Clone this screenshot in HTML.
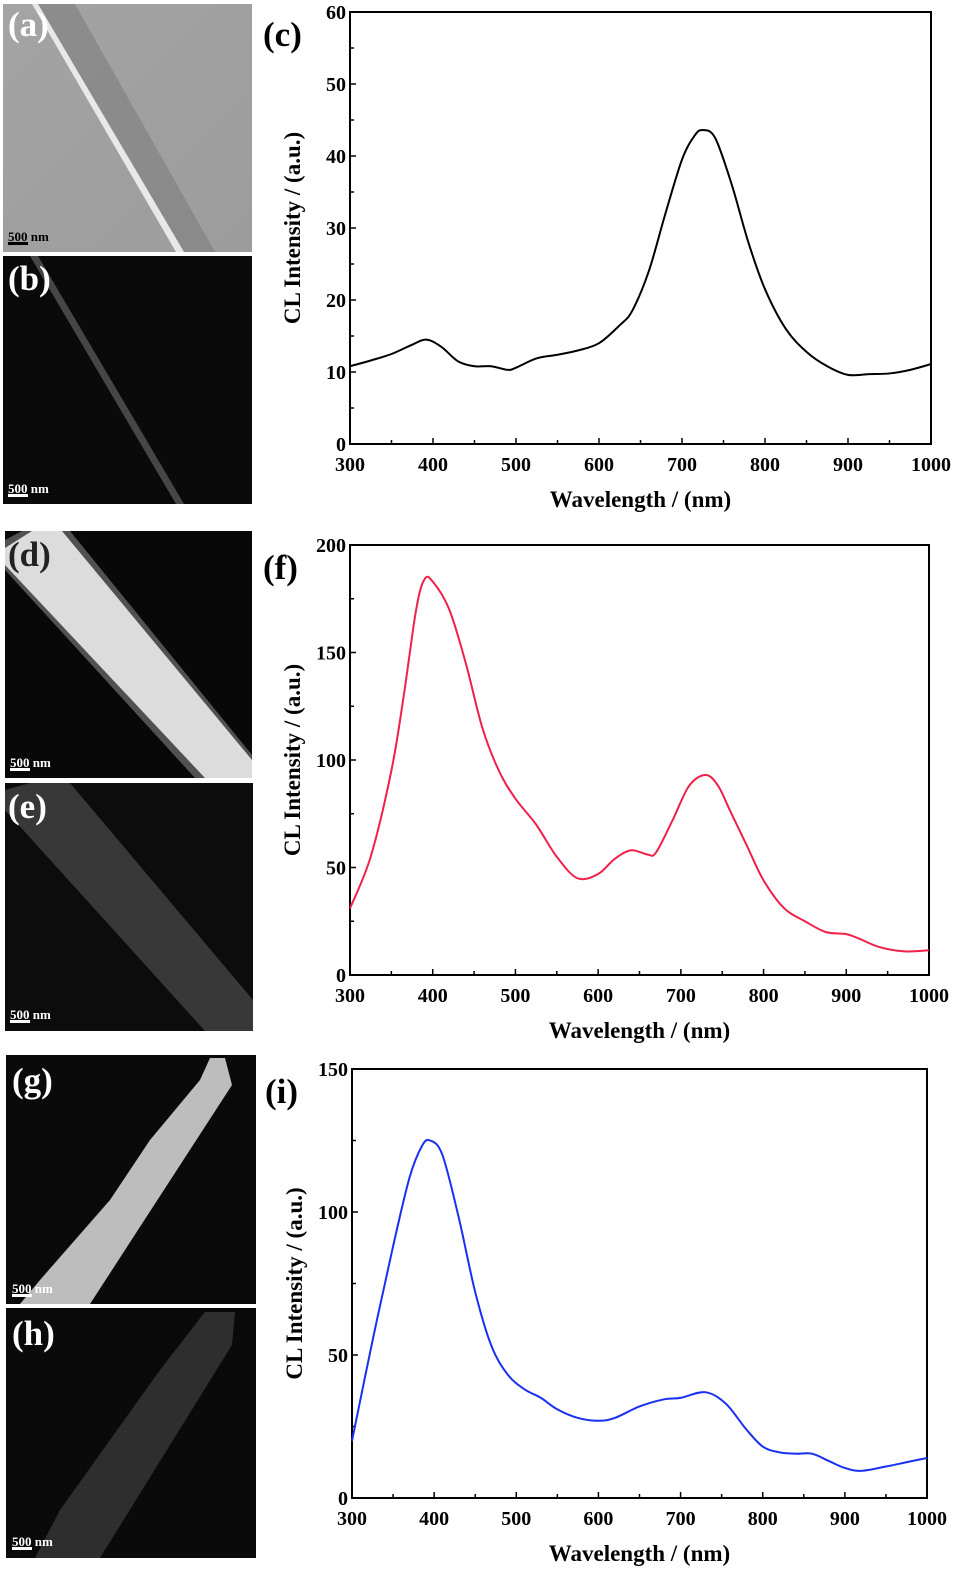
<!DOCTYPE html>
<html><head><meta charset="utf-8"><style>
html,body{margin:0;padding:0;background:#fff;}
svg{display:block;font-family:"Liberation Serif",serif;}
.t{font-weight:bold;font-size:20px;}
.at{font-weight:bold;font-size:23px;}
.pl{font-weight:bold;font-size:35px;}
.sb{font-size:13px;font-weight:bold;fill:#fff;}
</style></head><body>
<svg id="fig" width="964" height="1579" viewBox="0 0 964 1579" xmlns="http://www.w3.org/2000/svg">
<defs>
<linearGradient id="gA" x1="0" y1="0" x2="1" y2="1"><stop offset="0" stop-color="#a4a4a4"/><stop offset="1" stop-color="#9c9c9c"/></linearGradient>
</defs>
<g>
<rect x="3" y="4" width="249" height="248" fill="url(#gA)"/>
<polygon points="36,4 75,4 215,252 178,252" fill="#7a7a7a" opacity="0.55"/>
<polygon points="32,4 38,4 184,252 176,252" fill="#e8e8e8"/>
<rect x="8" y="242" width="20" height="3" fill="#000"/>
<text x="8" y="241" font-size="13" font-weight="bold" fill="#000">500 nm</text>
<text class="pl" x="8" y="36" fill="#fff">(a)</text>
</g>
<g>
<rect x="3" y="256" width="249" height="248" fill="#0a0a0a"/>
<polygon points="30,256 38,256 184,504 176,504" fill="#555" opacity="0.8"/>
<rect x="8" y="494" width="20" height="3" fill="#fff"/>
<text class="sb" x="8" y="493">500 nm</text>
<text class="pl" x="8" y="290" fill="#fff">(b)</text>
</g>
<g>
<rect x="5" y="531" width="247" height="247" fill="#080808"/>
<polygon points="22,531 70,531 252,755 252,778 195,778 5,570 5,540" fill="#999" opacity="0.5"/>
<polygon points="32,531 62,531 252,760 252,778 205,778 5,565 5,548" fill="#dcdcdc"/>
<rect x="10" y="768" width="20" height="3" fill="#fff"/>
<text class="sb" x="10" y="767">500 nm</text>
<text class="pl" x="8" y="566" fill="#222">(d)</text>
</g>
<g>
<rect x="5" y="783" width="248" height="248" fill="#0c0c0c"/>
<polygon points="30,783 70,783 253,1000 253,1031 205,1031 5,810 5,790" fill="#383838"/>
<rect x="10" y="1020" width="20" height="3" fill="#fff"/>
<text class="sb" x="10" y="1019">500 nm</text>
<text class="pl" x="8" y="818" fill="#fff">(e)</text>
</g>
<g>
<rect x="6" y="1055" width="250" height="249" fill="#0a0a0a"/>
<polygon points="210,1058 225,1058 232,1085 90,1304 20,1304 40,1280 75,1240 110,1200 150,1140 200,1080" fill="#bdbdbd"/>
<rect x="12" y="1294" width="20" height="3" fill="#fff"/>
<text class="sb" x="12" y="1293">500 nm</text>
<text class="pl" x="12" y="1092" fill="#fff">(g)</text>
</g>
<g>
<rect x="6" y="1308" width="250" height="250" fill="#0a0a0a"/>
<polygon points="205,1312 235,1312 232,1345 100,1558 35,1558 60,1510 110,1440 160,1370" fill="#2e2e2e"/>
<rect x="12" y="1547" width="20" height="3" fill="#fff"/>
<text class="sb" x="12" y="1546">500 nm</text>
<text class="pl" x="12" y="1345" fill="#fff">(h)</text>
</g>
<g id="charts"></g>
</svg>
<script>
const xTicks = [300,400,500,600,700,800,900,1000];
const cX = [300,325,350,375,392,410,430,450,470,490,500,525,550,575,600,625,640,660,680,700,715,725,740,760,780,800,825,850,875,900,925,950,975,1000];
const cY = [10.8,11.6,12.5,13.8,14.5,13.5,11.5,10.8,10.8,10.3,10.6,11.9,12.4,13.0,14.0,16.5,18.5,24,32,39.5,42.8,43.6,42.5,36,28,21.5,16,12.8,10.8,9.6,9.7,9.8,10.3,11.1];
const cTicks = [0,10,20,30,40,50,60];
const fX = [300,325,350,365,380,390,400,420,440,460,480,500,525,550,575,600,620,640,660,670,690,710,730,745,760,780,800,825,850,875,900,915,940,970,1000];
const fY = [31,55,95,130,170,184,183,170,145,115,95,82,70,55,45,47,54,58,56,57,72,88,93,88,76,60,44,31,25,20,19,17,13,11,11.5];
const fTicks = [0,50,100,150,200];
const iX = [300,325,350,370,385,395,410,430,450,470,490,510,530,550,575,600,620,650,680,700,730,755,780,800,820,840,860,880,900,920,950,975,1000];
const iY = [20,55,88,112,123,125,120,98,72,53,43,38,35,31,28,27,28,32,34.5,35,37,33,24,18,16,15.5,15.5,13,10.5,9.5,11,12.5,14];
const iTicks = [0,50,100,150];

const NS = 'http://www.w3.org/2000/svg';
const root = document.getElementById('charts');
function mk(tag, attrs, parent, txt){
  const e = document.createElementNS(NS, tag);
  for (const k in attrs) e.setAttribute(k, attrs[k]);
  if (txt !== undefined) e.textContent = txt;
  parent.appendChild(e); return e;
}
function chart(id, L, R, T, B, ymax, yTicks, xs, ys, color, label){
  const g = mk('g', {}, root);
  
  
  const sx = v => L + (v-300)/700*(R-L);
  const sy = v => B - v/ymax*(B-T);
  const frame = mk('rect', {x:L, y:T, width:R-L, height:B-T, fill:'none', stroke:'#000', 'stroke-width':2}, g);
  
  
  for (let v=300; v<=1000; v+=50){
    const major = v%100===0;
    mk('line', {x1:sx(v), x2:sx(v), y1:B, y2:B-(major?6:4), stroke:'#000','stroke-width':1.5}, g);
  }
  xTicks.forEach(v=>{
    const t = mk('text', {x:sx(v), y:B+27, 'text-anchor':'middle', class:'t'}, g, v);
    
    
  });
  const step = yTicks[1]-yTicks[0];
  for (let v=0; v<=ymax+1e-9; v+=step/2){
    const major = Math.abs(v/step-Math.round(v/step))<1e-6;
    mk('line', {x1:L, x2:L+(major?6:4), y1:sy(v), y2:sy(v), stroke:'#000','stroke-width':1.5}, g);
  }
  yTicks.forEach(v=>{
    const t = mk('text', {x:L-4, y:sy(v)+7, 'text-anchor':'end', class:'t'}, g, v);
    
    
  });
  const xt = mk('text', {x:(L+R)/2, y:B+63, 'text-anchor':'middle', class:'at'}, g, 'Wavelength / (nm)');
  
  
  const yc = (T+B)/2;
  const yt = mk('text', {x:0, y:0, 'text-anchor':'middle', class:'at', transform:`translate(${L-50},${yc}) rotate(-90)`}, g, 'CL Intensity / (a.u.)');
  
  
  const pl = mk('text', {x:L-87, y:T+34, class:'pl'}, g, label);
  
  
  const pts = xs.map((x,i)=>[sx(x), sy(ys[i])]);
  let d = `M${pts[0][0]},${pts[0][1]}`;
  for (let i=0;i<pts.length-1;i++){
    const p0=pts[Math.max(0,i-1)], p1=pts[i], p2=pts[i+1], p3=pts[Math.min(pts.length-1,i+2)];
    const c1=[p1[0]+(p2[0]-p0[0])/6, p1[1]+(p2[1]-p0[1])/6];
    const c2=[p2[0]-(p3[0]-p1[0])/6, p2[1]-(p3[1]-p1[1])/6];
    d += ` C${c1[0]},${c1[1]} ${c2[0]},${c2[1]} ${p2[0]},${p2[1]}`;
  }
  const line = mk('path', {d, fill:'none', stroke:color, 'stroke-width':2}, g);
  
  
}
chart('chart-c', 350, 931, 12, 444, 60, cTicks, cX, cY, '#000', '(c)');
chart('chart-f', 350, 929, 545, 975, 200, fTicks, fX, fY, '#f0204a', '(f)');
chart('chart-i', 352, 927, 1069, 1498, 150, iTicks, iX, iY, '#1a30f0', '(i)');
</script>
</body></html>
